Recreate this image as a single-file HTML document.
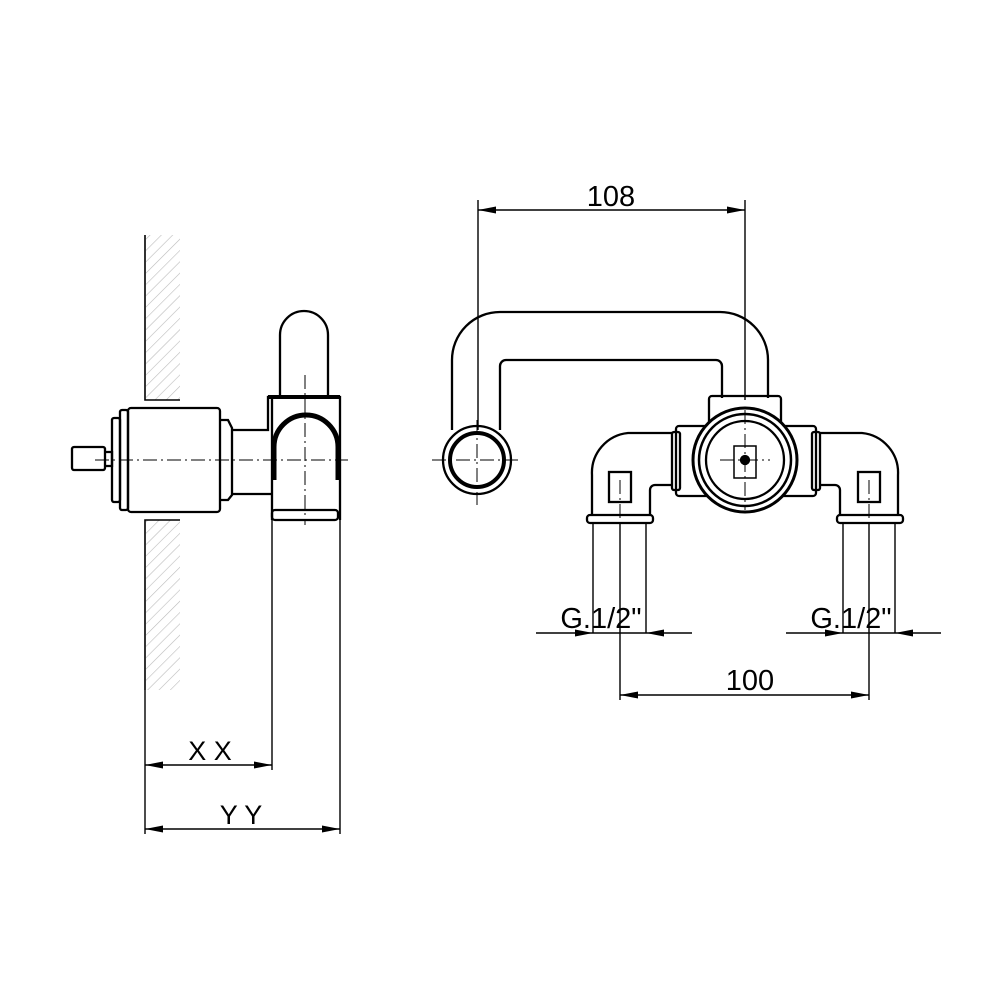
<!DOCTYPE html>
<html><head><style>body{margin:0;background:#fff}svg{display:block}</style></head><body>
<svg width="1000" height="1000" viewBox="0 0 1000 1000" xmlns="http://www.w3.org/2000/svg" font-family="Liberation Sans, sans-serif">
<defs>
<pattern id="h" width="8" height="8" patternUnits="userSpaceOnUse" patternTransform="rotate(45)"><line x1="0" y1="0" x2="0" y2="8" stroke="#bbb" stroke-width="1.2"/></pattern>
<marker id="a" viewBox="0 0 18 7" refX="18" refY="3.5" markerWidth="18" markerHeight="7" orient="auto-start-reverse" markerUnits="userSpaceOnUse"><path d="M0,0L18,3.5L0,7z" fill="#000"/></marker>
</defs>
<g stroke="#000" fill="none" stroke-width="2.3">
<rect x="146" y="235" width="34" height="165" fill="url(#h)" stroke="none"/>
<rect x="146" y="520" width="34" height="170" fill="url(#h)" stroke="none"/>
<path d="M145,235V400H180M145,690V520H180" stroke-width="1.6"/>
<rect x="72" y="447" width="33" height="23" rx="2"/>
<path d="M105,452H112V466H105"/>
<rect x="112" y="418" width="8" height="84" rx="2"/>
<rect x="120" y="410" width="8" height="100" rx="2"/>
<rect x="128" y="408" width="92" height="104" rx="3"/>
<path d="M220,420H228L232,428V495L228,500H220"/>
<path d="M232,430H268V412V397H340V520"/>
<path d="M232,494H272"/>
<path d="M280,397V335A24,24 0 0 1 328,335V397"/>
<path d="M268,397H340" stroke-width="4"/>
<path d="M272,397V520" />
<path d="M274,480V447A32,32 0 0 1 338,447V480" stroke-width="5"/>
<rect x="272" y="510" width="66" height="10" rx="3"/>
<path d="M452,430V360A48,48 0 0 1 500,312H720A48,48 0 0 1 768,360V398"/>
<path d="M500,430V366A6,6 0 0 1 506,360H716A6,6 0 0 1 722,366V398"/>
<circle cx="477" cy="460" r="34"/>
<circle cx="477" cy="460" r="27" stroke-width="4"/>
<rect x="709" y="396" width="72" height="30" rx="3"/>
<rect x="676" y="426" width="140" height="70" rx="3"/>
<rect x="672" y="432" width="8" height="58" rx="2"/>
<rect x="812" y="432" width="8" height="58" rx="2"/>
<circle cx="745" cy="460" r="52" fill="#fff" stroke-width="3"/>
<circle cx="745" cy="460" r="46" stroke-width="2.5"/>
<circle cx="745" cy="460" r="39"/>
<rect x="734" y="446" width="22" height="32" stroke-width="1.5"/>
<circle cx="745" cy="460" r="4" fill="#000"/>
<path d="M672,433H628A40,40 0 0 0 592,475V515M672,485H655A5,5 0 0 0 650,490V515"/>
<rect x="587" y="515" width="66" height="8" rx="3"/>
<rect x="609" y="472" width="22" height="30"/>
<path d="M820,433H862A40,40 0 0 1 898,475V515M820,485H835A5,5 0 0 1 840,490V515"/>
<rect x="837" y="515" width="66" height="8" rx="3"/>
<rect x="858" y="472" width="22" height="30"/>
</g>
<g stroke="#000" stroke-width="1" stroke-dasharray="14,4,2,4" fill="none">
<path d="M95,460H348M305,375V525M432,460H518M477,420V505M720,460H770M745,410V510M620,480V520M869,480V520"/>
</g>
<g stroke="#000" stroke-width="1.4" fill="none">
<path d="M478,200V430M745,200V400"/>
<path d="M478,210H745" marker-start="url(#a)" marker-end="url(#a)"/>
<path d="M272,520V770M340,520V834M145,690V834"/>
<path d="M145,765H272" marker-start="url(#a)" marker-end="url(#a)"/>
<path d="M145,829H340" marker-start="url(#a)" marker-end="url(#a)"/>
<path d="M593,523V633M620,523V700M646,523V633M843,523V633M869,523V700M895,523V633"/>
<path d="M536,633H593" marker-end="url(#a)"/><path d="M692,633H646" marker-end="url(#a)"/><path d="M593,633H646"/>
<path d="M786,633H843" marker-end="url(#a)"/><path d="M941,633H895" marker-end="url(#a)"/><path d="M843,633H895"/>
<path d="M620,695H869" marker-start="url(#a)" marker-end="url(#a)"/>
</g>
<g fill="#000" font-size="29" text-anchor="middle">
<text x="611" y="206">108</text>
<text x="750" y="690">100</text>
<text x="601" y="628">G.1/2"</text>
<text x="851" y="628">G.1/2"</text>
<text x="210" y="760" font-size="27">X X</text>
<text x="241" y="824" font-size="27">Y Y</text>
</g>
</svg>
</body></html>
